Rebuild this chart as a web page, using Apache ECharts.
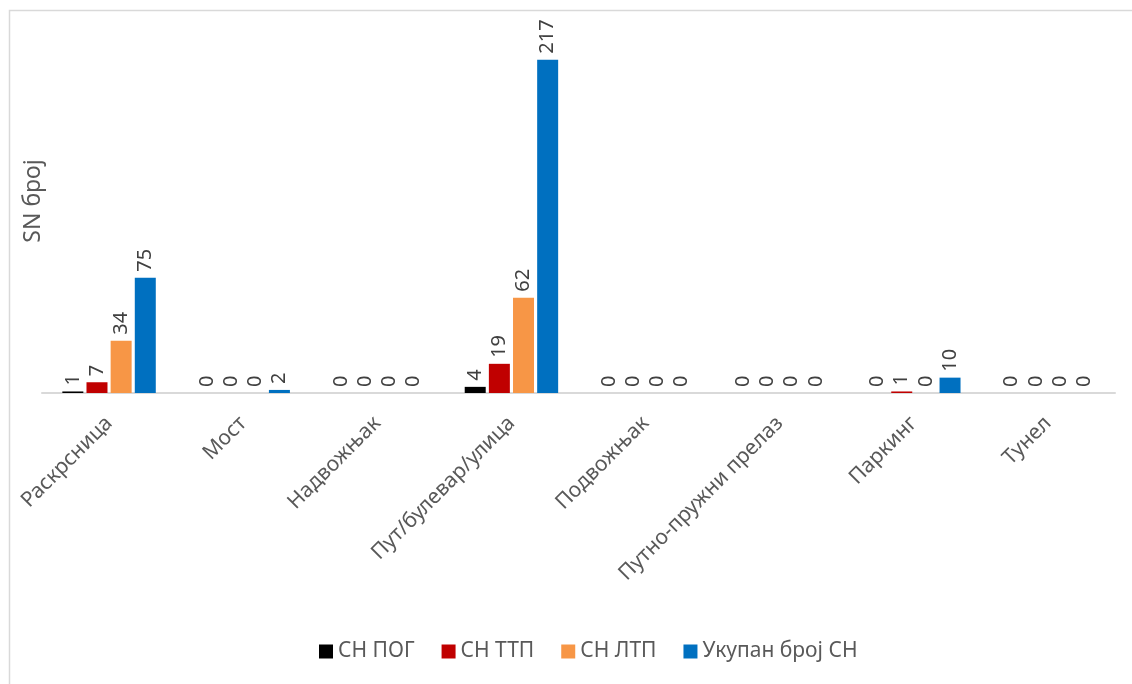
<!DOCTYPE html>
<html>
<head>
<meta charset="utf-8">
<script src="https://cdn.jsdelivr.net/npm/echarts@6/dist/echarts.min.js"></script>
<style>
  html, body { margin: 0; padding: 0; background: #fff; }
  #chart { width: 1132px; height: 684px; }
</style>
</head>
<body>
<div id="chart"></div>
<script>
const categories = ["Раскрсница", "Мост", "Надвожњак", "Пут/булевар/улица", "Подвожњак", "Путно-пружни прелаз", "Паркинг", "Тунел"];
const seriesNames = ["СН ПОГ", "СН ТТП", "СН ЛТП", "Укупан број СН"];
const snPog = [1, 0, 0, 4, 0, 0, 0, 0];
const snTtp = [7, 0, 0, 19, 0, 0, 1, 0];
const snLtp = [34, 0, 0, 62, 0, 0, 0, 0];
const ukupno = [75, 2, 0, 217, 0, 0, 10, 0];
const colors = ["#000000", "#C00000", "#F79646", "#0070C0"];

const font = "'Noto Sans', sans-serif";
const chart = echarts.init(document.getElementById("chart"));

const makeSeries = (name, data, color) => ({
  name: name,
  type: "bar",
  data: data,
  barWidth: 21,
  barGap: "15%",
  itemStyle: { color: color },
  label: {
    show: true,
    position: "top",
    rotate: 90,
    align: "left",
    verticalAlign: "middle",
    distance: 6,
    color: "#404040",
    fontSize: 20,
    fontFamily: font,
  },
});

chart.setOption({
  animation: false,
  textStyle: { fontFamily: font },
  graphic: [
    {
      type: "rect",
      shape: { x: 9.5, y: 10.5, width: 1200, height: 800 },
      style: { fill: "none", stroke: "#D9D9D9", lineWidth: 1.5 },
      silent: true,
    },
  ],
  legend: {
    bottom: 17,
    left: 314,
    itemWidth: 14,
    itemHeight: 14,
    itemGap: 27,
    icon: "rect",
    textStyle: { color: "#595959", fontSize: 21, fontFamily: font },
    data: seriesNames,
  },
  grid: {
    left: 42,
    right: 17,
    top: 9,
    bottom: 291,
  },
  xAxis: {
    type: "category",
    data: categories,
    axisLine: { lineStyle: { color: "#D9D9D9", width: 2 } },
    axisTick: { show: false },
    axisLabel: {
      rotate: 45,
      interval: 0,
      margin: 27,
      color: "#595959",
      fontSize: 21,
      fontFamily: font,
    },
  },
  yAxis: {
    type: "value",
    min: 0,
    max: 250,
    name: "SN број",
    nameLocation: "middle",
    nameGap: -3,
    nameRotate: 90,
    nameTextStyle: { color: "#595959", fontSize: 23, fontFamily: font },
    axisLine: { show: false },
    axisTick: { show: false },
    axisLabel: { show: false },
    splitLine: { show: false },
  },
  series: [
    makeSeries(seriesNames[0], snPog, colors[0]),
    makeSeries(seriesNames[1], snTtp, colors[1]),
    makeSeries(seriesNames[2], snLtp, colors[2]),
    makeSeries(seriesNames[3], ukupno, colors[3]),
  ],
});
</script>
</body>
</html>
